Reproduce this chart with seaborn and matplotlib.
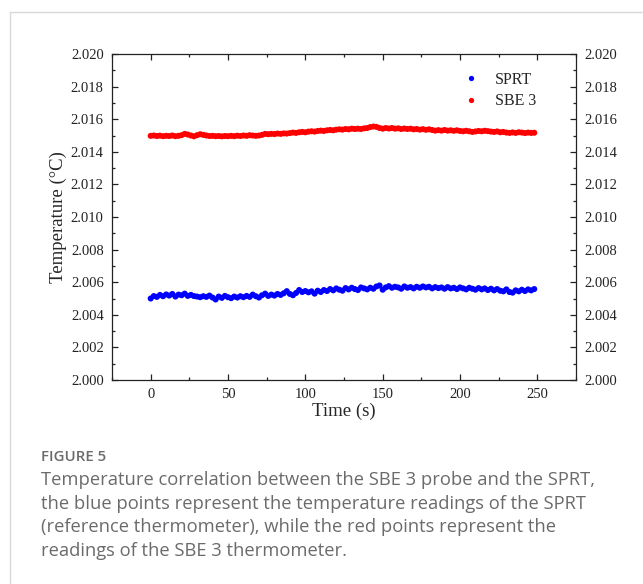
import numpy as np
import pandas as pd
import matplotlib
matplotlib.use("Agg")
import matplotlib.pyplot as plt
from matplotlib.lines import Line2D
from matplotlib.ticker import MultipleLocator, FormatStrFormatter
import seaborn as sns

# ---- data (one reading every 2 s) ----
time_s = np.arange(0, 250, 2)

sprt = [
    2.00500, 2.00515, 2.00510, 2.00522, 2.00514, 2.00525, 2.00518, 2.00528, 2.00512, 2.00524,
    2.00520, 2.00530, 2.00516, 2.00522, 2.00515, 2.00512, 2.00508, 2.00514, 2.00510, 2.00518,
    2.00506, 2.00494, 2.00512, 2.00504, 2.00516, 2.00508, 2.00502, 2.00512, 2.00506, 2.00514,
    2.00508, 2.00516, 2.00510, 2.00524, 2.00514, 2.00506, 2.00520, 2.00530, 2.00516, 2.00524,
    2.00518, 2.00528, 2.00522, 2.00532, 2.00545, 2.00528, 2.00520, 2.00534, 2.00552, 2.00540,
    2.00546, 2.00538, 2.00544, 2.00530, 2.00548, 2.00540, 2.00552, 2.00546, 2.00558, 2.00550,
    2.00562, 2.00554, 2.00548, 2.00564, 2.00556, 2.00566, 2.00558, 2.00552, 2.00568, 2.00562,
    2.00556, 2.00566, 2.00560, 2.00574, 2.00580, 2.00554, 2.00568, 2.00576, 2.00566, 2.00572,
    2.00568, 2.00560, 2.00574, 2.00566, 2.00570, 2.00562, 2.00572, 2.00566, 2.00574, 2.00568,
    2.00572, 2.00562, 2.00570, 2.00564, 2.00568, 2.00560, 2.00570, 2.00562, 2.00566, 2.00558,
    2.00568, 2.00562, 2.00556, 2.00566, 2.00560, 2.00554, 2.00564, 2.00556, 2.00562, 2.00552,
    2.00560, 2.00550, 2.00558, 2.00548, 2.00544, 2.00556, 2.00540, 2.00536, 2.00550, 2.00544,
    2.00554, 2.00546, 2.00556, 2.00550, 2.00558,
]

sbe3 = [
    2.01498, 2.01500, 2.01497, 2.01499, 2.01496, 2.01498, 2.01497, 2.01500, 2.01496, 2.01498,
    2.01502, 2.01510, 2.01506, 2.01500, 2.01495, 2.01502, 2.01508, 2.01504, 2.01500, 2.01497,
    2.01498, 2.01496, 2.01497, 2.01495, 2.01497, 2.01496, 2.01498, 2.01496, 2.01499, 2.01497,
    2.01500, 2.01498, 2.01502, 2.01500, 2.01498, 2.01500, 2.01504, 2.01510, 2.01508, 2.01510,
    2.01509, 2.01512, 2.01510, 2.01513, 2.01512, 2.01515, 2.01518, 2.01516, 2.01520, 2.01522,
    2.01520, 2.01524, 2.01526, 2.01524, 2.01528, 2.01530, 2.01528, 2.01532, 2.01534, 2.01532,
    2.01536, 2.01538, 2.01536, 2.01540, 2.01538, 2.01542, 2.01540, 2.01542, 2.01540, 2.01544,
    2.01546, 2.01552, 2.01555, 2.01553, 2.01546, 2.01542, 2.01546, 2.01543, 2.01546, 2.01542,
    2.01544, 2.01540, 2.01543, 2.01540, 2.01542, 2.01538, 2.01540, 2.01536, 2.01539, 2.01535,
    2.01538, 2.01534, 2.01530, 2.01533, 2.01530, 2.01534, 2.01530, 2.01532, 2.01529, 2.01532,
    2.01528, 2.01526, 2.01529, 2.01526, 2.01522, 2.01525, 2.01528, 2.01526, 2.01529, 2.01527,
    2.01524, 2.01522, 2.01525, 2.01520, 2.01522, 2.01518, 2.01516, 2.01519, 2.01516, 2.01520,
    2.01518, 2.01515, 2.01518, 2.01516, 2.01517,
]

series_names = ["SPRT", "SBE 3"]
series_colors = {"SPRT": "#0000ff", "SBE 3": "#ff0000"}

caption_title = "FIGURE 5"
caption_lines = [
    "Temperature correlation between the SBE 3 probe and the SPRT,",
    "the blue points represent the temperature readings of the SPRT",
    "(reference thermometer), while the red points represent the",
    "readings of the SBE 3 thermometer.",
]

# long format for seaborn
df = pd.concat([
    pd.DataFrame({"Time": time_s, "Temp": sprt, "Sensor": "SPRT"}),
    pd.DataFrame({"Time": time_s, "Temp": sbe3, "Sensor": "SBE 3"}),
], ignore_index=True)

sns.set_style("ticks")
plt.rcParams["font.family"] = ["Liberation Serif", "DejaVu Serif"]

fig = plt.figure(figsize=(6.43, 5.84), dpi=100)
ax = fig.add_axes([0.1742, 0.3493, 0.7216, 0.5582])

sns.scatterplot(data=df, x="Time", y="Temp", hue="Sensor", hue_order=series_names,
                palette=series_colors, s=19, linewidth=0, ax=ax, legend=False)

ax.set_xlim(-25, 275)
ax.set_ylim(2.000, 2.020)
ax.xaxis.set_major_locator(MultipleLocator(50))
ax.xaxis.set_minor_locator(MultipleLocator(25))
ax.yaxis.set_major_locator(MultipleLocator(0.002))
ax.yaxis.set_minor_locator(MultipleLocator(0.001))
ax.yaxis.set_major_formatter(FormatStrFormatter("%.3f"))

ax.tick_params(which="both", direction="in", top=True, right=True,
               labelright=True, width=0.9, colors="#222222", labelsize=10.5)
ax.tick_params(which="major", length=4.5, pad=6)
ax.tick_params(which="minor", length=2.5)
for sp in ax.spines.values():
    sp.set_linewidth(0.9)
    sp.set_color("#222222")

ax.set_xlabel("Time (s)", fontsize=13.5, labelpad=1)
ax.set_ylabel("Temperature (°C)", fontsize=13.5, labelpad=3)

handles = [Line2D([], [], ls="none", marker="o", markersize=3.8,
                  markerfacecolor=series_colors[n], markeredgewidth=0) for n in series_names]
ax.legend(handles, series_names, loc="upper right", bbox_to_anchor=(0.945, 0.99),
          frameon=False, fontsize=11.5, handletextpad=0.9, labelspacing=0.35,
          handlelength=1.2)

# light border of the figure panel (top and left only)
fig.add_artist(Line2D([10 / 643, 1.0], [1 - 12 / 584, 1 - 12 / 584],
                      color="#d9d9d9", lw=1.0, transform=fig.transFigure))
fig.add_artist(Line2D([10 / 643, 10 / 643], [0.0, 1 - 12 / 584],
                      color="#d9d9d9", lw=1.0, transform=fig.transFigure))

cap_font = ["Open Sans", "DejaVu Sans"]
fig.text(41 / 643, 1 - 457 / 584, caption_title, family=cap_font, fontsize=10.8,
         fontweight="semibold", color="#6b6b6b", va="center")
for i, line in enumerate(caption_lines):
    fig.text(41 / 643, 1 - (480 + i * 23.6) / 584, line, family=cap_font, fontsize=13.2,
             color="#6b6b6b", va="center")

fig.savefig("out.png", dpi=100)
